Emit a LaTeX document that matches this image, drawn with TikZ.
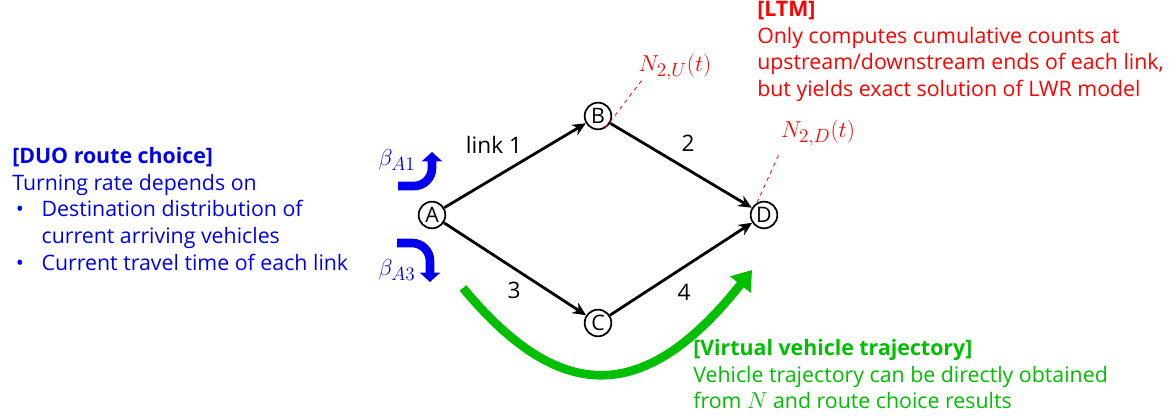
\documentclass[tikz,border=0pt]{standalone}
\usepackage{fontspec}
\setmainfont{Open Sans}
\usetikzlibrary{arrows.meta}
\definecolor{duoblue}{RGB}{0,0,240}
\definecolor{ltmred}{RGB}{255,0,0}
\definecolor{trajgreen}{RGB}{0,190,0}
\tikzset{
  junction/.style={circle, draw, line width=1.3pt, minimum size=20pt, inner sep=0pt, font=\fontsize{16}{16}\selectfont},
  linkarrow/.style={-{Stealth[length=10pt,width=9pt]}, line width=2.1pt},
  linklabel/.style={font=\fontsize{17}{17}\selectfont},
  mathlabel/.style={font=\fontsize{19}{19}\selectfont},
  turnarrow/.style={-{Triangle[length=7pt,width=15pt]}, line width=6.5pt, duoblue},
  notetext/.style={align=left, anchor=north west, inner sep=0pt, font=\fontsize{16}{20}\selectfont}
}
\begin{document}
\begin{tikzpicture}[x=0.75pt, y=-0.75pt]
  \useasboundingbox (0,0) rectangle (1169,420);
  % network
  \node[junction] (A) at (432,215) {A};
  \node[junction] (B) at (598,116) {B};
  \node[junction] (C) at (598,323) {C};
  \node[junction] (D) at (764,215) {D};
  \draw[linkarrow] (A) -- (B);
  \draw[linkarrow] (B) -- (D);
  \draw[linkarrow] (A) -- (C);
  \draw[linkarrow] (C) -- (D);
  \node[linklabel] (l1) at (494,145) {link 1};
  \node[linklabel] (l2) at (688,143) {2};
  \node[linklabel] (l3) at (514,290) {3};
  \node[linklabel] (l4) at (684,292) {4};
  % cumulative counts
  \coordinate (nu) at (642,80);
  \coordinate (nd) at (780,152);
  \draw[ltmred, dashed, line width=0.6pt] (B.-60) -- (nu);
  \draw[ltmred, dashed, line width=0.6pt] (D.120) -- (nd);
  \node[ltmred, mathlabel] (NU) at (675,67) {$N_{2,U}(t)$};
  \node[ltmred, mathlabel] (ND) at (818,133) {$N_{2,D}(t)$};
  % turning rates
  \draw[turnarrow] (398,186) -- (414,186) to[out=0,in=-90] (432,168) -- (432,152);
  \draw[turnarrow] (397,243) -- (412,243) to[out=0,in=90] (430,261) -- (430,282);
  \node[duoblue, mathlabel] (b1) at (397,160) {$\beta_{A1}$};
  \node[duoblue, mathlabel] (b3) at (397,270) {$\beta_{A3}$};
  % virtual trajectory
  \draw[trajgreen, line width=6.5pt, -{Triangle[length=14pt,width=19pt]}]
    (463,288) .. controls (560,405) and (645,405) .. (752,270);
  % notes
  \node[notetext, duoblue] (duo) at (12,147) {\textbf{[DUO route choice]}\\Turning rate depends on\\
    \makebox[22pt][l]{\,•}Destination distribution of\\\hspace*{22pt}current arriving vehicles\\
    \makebox[22pt][l]{\,•}Current travel time of each link};
  \node[notetext, ltmred] (ltm) at (757,1) {\textbf{[LTM]}\\Only computes cumulative counts at\\
    upstream/downstream ends of each link,\\but yields exact solution of LWR model};
  \node[notetext, trajgreen] (vvt) at (693,339) {\textbf{[Virtual vehicle trajectory]}\\
    Vehicle trajectory can be directly obtained\\from $N$ and route choice results};
\end{tikzpicture}
\end{document}
